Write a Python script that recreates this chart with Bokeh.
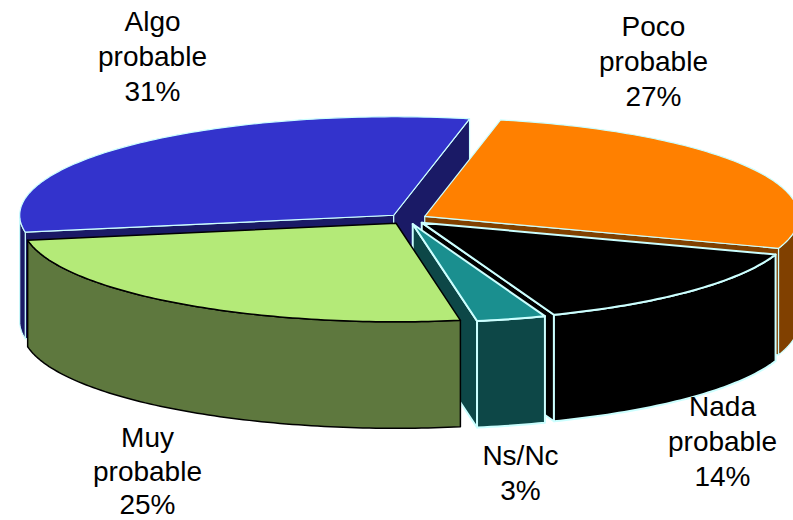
import math
from bokeh.plotting import figure
from bokeh.models import Range1d
from bokeh.embed import file_html
from bokeh.resources import INLINE

# data, in drawing order (clockwise from the top of the pie)
categories = ["Poco probable", "Nada probable", "Ns/Nc", "Muy probable", "Algo probable"]
values = [27, 14, 3, 25, 31]

# styles
top_colors = ["#FF8000", "#000000", "#1A8F8F", "#B4EA78", "#3333CC"]
side_colors = ["#804000", "#000000", "#0D4747", "#5E783E", "#1A1A66"]
edge_colors = ["#CCFFFF", "#CCFFFF", "#CCFFFF", "#000000", "#CCFFFF"]
edge_widths = [1.2, 2, 2, 1.5, 1.2]
paint_order = ["Algo probable", "Poco probable", "Nada probable", "Ns/Nc", "Muy probable"]

# label placement (pixels)
label_x = {"Algo probable": 152, "Poco probable": 653, "Nada probable": 722, "Ns/Nc": 520, "Muy probable": 147}
label_y = {"Algo probable": 21, "Poco probable": 26, "Nada probable": 406, "Ns/Nc": 455, "Muy probable": 437}
line_step = {"Algo probable": 35, "Poco probable": 35, "Nada probable": 35, "Ns/Nc": 35, "Muy probable": 33.5}

# pie geometry
CX, CY, RX, RY, DEPTH, EXPLODE, START = 407, 218.5, 374, 98.5, 106.5, 0.053, 78.3

p = figure(width=793, height=520, x_range=Range1d(0, 793), y_range=Range1d(520, 0),
           output_backend="svg", toolbar_location=None, min_border=0,
           outline_line_color=None, background_fill_color="white", border_fill_color="white")
p.axis.visible = False
p.grid.visible = False
p.xaxis.visible = False
p.yaxis.visible = False

total = sum(values)
slices = {}
a = START
for i, c in enumerate(categories):
    sweep = 360.0 * values[i] / total
    slices[c] = (i, a, a - sweep)
    a -= sweep


def pt(ax, ay, t):
    r = math.radians(t)
    return ax + RX * math.cos(r), ay - RY * math.sin(r)


def arc(ax, ay, t0, t1):
    n = max(2, int(abs(t0 - t1) / 1.0) + 1)
    return [pt(ax, ay, t0 + (t1 - t0) * k / (n - 1)) for k in range(n)]


def draw(poly, fill, line, w):
    p.patch([q[0] for q in poly], [q[1] for q in poly], fill_color=fill, line_color=line,
            line_width=w, line_join="round")


for c in paint_order:
    i, t0, t1 = slices[c]
    mid = math.radians((t0 + t1) / 2)
    ax = CX + EXPLODE * RX * math.cos(mid)
    ay = CY - EXPLODE * RY * math.sin(mid)
    fill, side, edge, w = top_colors[i], side_colors[i], edge_colors[i], edge_widths[i]
    for t, vis in ((t0, math.cos(math.radians(t0)) < 0), (t1, math.cos(math.radians(t1)) > 0)):
        if vis:
            e = pt(ax, ay, t)
            draw([(ax, ay), e, (e[0], e[1] + DEPTH), (ax, ay + DEPTH)], side, edge, w)
    # outer wall: the part of the rim on the lower half of the ellipse
    lo = t1
    hi = t0
    k = math.floor(lo / 360.0)
    lo_base, hi_base = -180 + 360 * k, 360 * k
    for shift in (0, 360):
        s0 = max(lo, lo_base + shift)
        s1 = min(hi, hi_base + shift)
        if s1 > s0:
            rim = arc(ax, ay, s1, s0)
            draw(rim + [(x, y + DEPTH) for x, y in reversed(rim)], side, edge, w)
    draw([(ax, ay)] + arc(ax, ay, t0, t1), fill, edge, w)

for c in categories:
    i = slices[c][0]
    lines = c.split(" ") + [f"{values[i]}%"]
    ys = [label_y[c] + line_step[c] * k for k in range(len(lines))]
    p.text([label_x[c]] * len(lines), ys, text=lines, text_align="center", text_baseline="middle",
           text_font={"value": "Liberation Sans"}, text_font_size="28px", text_color="#000000")

open("out.html", "w").write(file_html(p, INLINE))
